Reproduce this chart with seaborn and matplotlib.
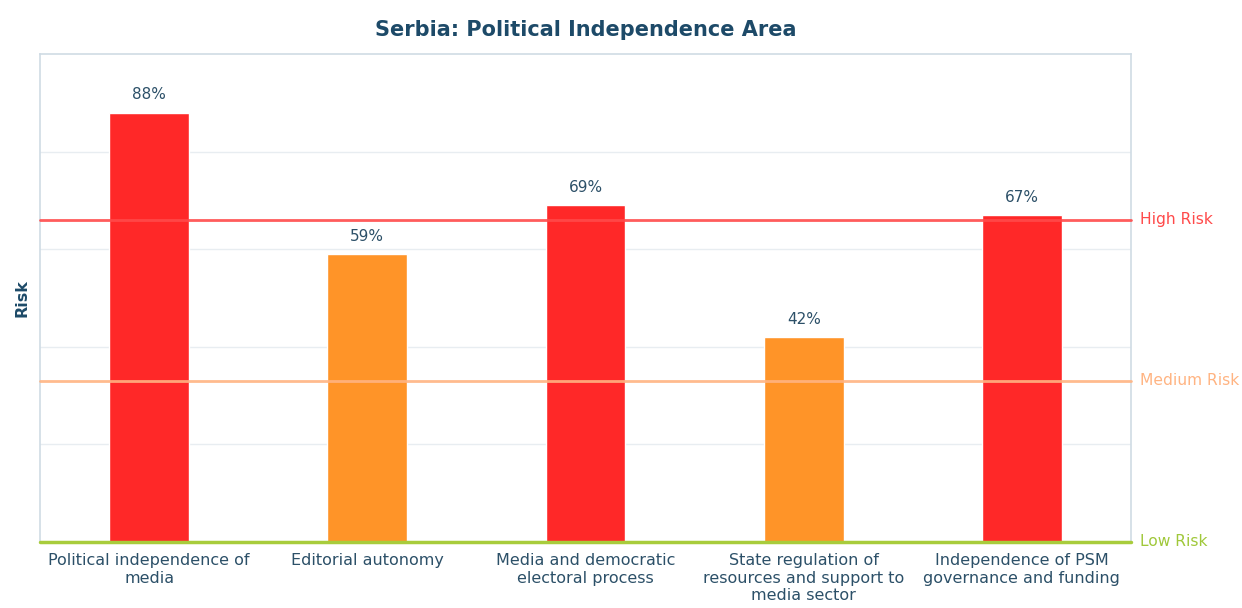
import pandas as pd
import matplotlib.pyplot as plt
import seaborn as sns

categories = [
    'Political independence of\nmedia',
    'Editorial autonomy',
    'Media and democratic\nelectoral process',
    'State regulation of\nresources and support to\nmedia sector',
    'Independence of PSM\ngovernance and funding',
]
risk_values = [88, 59, 69, 42, 67]
risk_levels = ['High', 'Medium', 'High', 'Medium', 'High']
thresholds = {'Low Risk': 0, 'Medium Risk': 33, 'High Risk': 66}

level_colors = {'High': '#ff2828', 'Medium': '#ff9428'}
line_colors = {'Low Risk': '#a8cc3c', 'Medium Risk': '#ffb482', 'High Risk': '#ff4a4a'}
text_color = '#2c5068'
title_color = '#1d4a68'

df = pd.DataFrame({'Category': categories, 'Risk': risk_values, 'Level': risk_levels})

sns.set_style('white')
plt.rcParams['font.family'] = ['DejaVu Sans']

fig = plt.figure(figsize=(12.42, 6.08), dpi=100)
ax = fig.add_axes([40 / 1242, 1 - 542 / 608, (1131 - 40) / 1242, (542 - 54) / 608])

sns.barplot(data=df, x='Category', y='Risk', hue='Level', palette=level_colors,
            width=0.366, dodge=False, legend=False, saturation=1, ax=ax, zorder=2)

ax.set_ylim(0, 100)
ax.set_xlim(-0.5, len(categories) - 0.5)
ax.set_yticks([20, 40, 60, 80])
ax.set_yticklabels([])
ax.tick_params(axis='y', length=0)
ax.tick_params(axis='x', length=0, pad=8, labelsize=11.5, labelcolor=text_color)
ax.grid(axis='y', color='#e8edf1', linewidth=1, zorder=0)

for s in ['top', 'left', 'right']:
    ax.spines[s].set_color('#cfdbe4')
    ax.spines[s].set_linewidth(1.2)
ax.spines['bottom'].set_visible(False)

# risk threshold lines with labels on the right
for name, val in thresholds.items():
    lw = 2.5 if val == 0 else 2
    ax.axhline(val, color=line_colors[name], linewidth=lw, alpha=0.9 if val else 1,
               zorder=3, clip_on=False)
    ax.text(1.008, val, name, transform=ax.get_yaxis_transform(), va='center', ha='left',
            fontsize=11.2, color=line_colors[name] if val else '#a0c83a')

# value labels
for i, v in enumerate(risk_values):
    ax.text(i, v + 3.6, f'{v}%', ha='center', va='center', fontsize=11, color=text_color)

ax.set_xlabel('')
ax.set_ylabel('Risk', fontsize=11.5, fontweight='bold', color=title_color, labelpad=4)
ax.set_title('Serbia: Political Independence Area', fontsize=15, fontweight='bold',
             color=title_color, pad=13)

fig.savefig('out.png', dpi=100)
